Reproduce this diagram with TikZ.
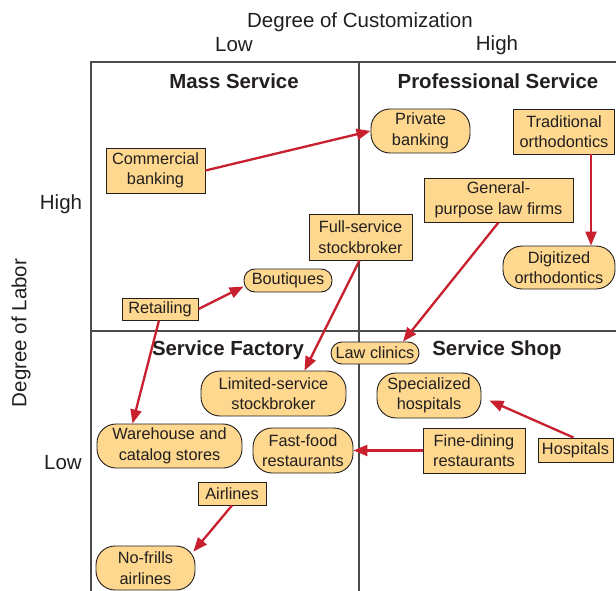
\documentclass[tikz,border=0pt]{standalone}
\usepackage{fontspec}
\setmainfont{Liberation Sans}
\usetikzlibrary{arrows.meta,calc}
\definecolor{boxfill}{HTML}{FDD88E}
\definecolor{arrowred}{HTML}{C8202E}
\definecolor{inkgray}{HTML}{231F20}
\definecolor{framegray}{HTML}{4A4A4A}
\begin{document}
\begin{tikzpicture}[x=1pt,y=-1pt,
  nodefont/.style={font=\fontsize{16.3}{20.5}\selectfont},
  sqbox/.style={nodefont, text=inkgray, draw=inkgray, line width=0.9pt, fill=boxfill, align=center, inner sep=0pt},
  rdbox/.style={sqbox, rounded corners=19pt},
  rdsmall/.style={sqbox, rounded corners=11pt},
  axislabel/.style={font=\fontsize{20.5}{24}\selectfont, text=inkgray, inner sep=0pt},
  quadtitle/.style={font=\fontsize{20.4}{24}\selectfont\bfseries, text=inkgray, inner sep=0pt},
  framelines/.style={draw=framegray, line width=1.2pt},
  redarrow/.style={draw=arrowred, line width=2.3pt, -{Triangle[length=14pt,width=11pt]}}
]
\clip (0,0) rectangle (616,591);
\fill[white] (0,0) rectangle (616,591);

% frame
\draw[framelines] (91,620) -- (91,62) -- (640,62);
\draw[framelines] (359,62) -- (359,620);
\draw[framelines] (91,331) -- (640,331);

% axis labels
\node[axislabel] (dc) at (360,22) {Degree of Customization};
\node[axislabel] (clow) at (234,45) {Low};
\node[axislabel] (chigh) at (497,45) {High};
\node[axislabel] (lhigh) at (61,204) {High};
\node[axislabel] (llow) at (63,463) {Low};
\node[axislabel, rotate=90] (dl) at (21,333) {Degree of Labor};

% quadrant titles
\node[quadtitle] (ms) at (234,81) {Mass Service};
\node[quadtitle] (ps) at (498,81) {Professional Service};
\node[quadtitle] (sf) at (228,350) {Service Factory};
\node[quadtitle] (ss) at (497,350) {Service Shop};

% nodes
\node[sqbox, minimum width=99pt, minimum height=45pt] (cb) at (155.5,170.5) {Commercial\\banking};
\node[rdbox, minimum width=99pt, minimum height=44pt] (pb) at (420.5,131) {Private\\banking};
\node[sqbox, minimum width=101pt, minimum height=45pt] (to) at (564,131.5) {Traditional\\orthodontics};
\node[sqbox, minimum width=149pt, minimum height=44pt] (gl) at (498.5,200) {General-\\purpose law firms};
\node[rdbox, minimum width=112pt, minimum height=43pt] (dorth) at (559,267.5) {Digitized\\orthodontics};
\node[sqbox, minimum width=103pt, minimum height=46pt] (fs) at (360.5,237) {Full-service\\stockbroker};
\node[rdsmall, minimum width=88pt, minimum height=23pt] (bt) at (288,280.5) {Boutiques};
\node[sqbox, minimum width=76pt, minimum height=22pt] (rt) at (160,309) {Retailing};
\node[rdsmall, minimum width=88pt, minimum height=22pt] (lc) at (375,353) {Law clinics};
\node[rdbox, minimum width=145pt, minimum height=45pt] (ls) at (273.5,393.5) {Limited-service\\stockbroker};
\node[rdbox, minimum width=145pt, minimum height=44pt] (wh) at (169.5,446) {Warehouse and\\catalog stores};
\node[rdbox, minimum width=100pt, minimum height=45pt] (ff) at (303,450.5) {Fast-food\\restaurants};
\node[rdbox, minimum width=104pt, minimum height=45pt] (sh) at (429,395.5) {Specialized\\hospitals};
\node[sqbox, minimum width=102pt, minimum height=45pt] (fd) at (474,450.5) {Fine-dining\\restaurants};
\node[sqbox, minimum width=75pt, minimum height=24pt] (hs) at (575.5,450) {Hospitals};
\node[sqbox, minimum width=68pt, minimum height=23pt] (al) at (232,493.5) {Airlines};
\node[rdbox, minimum width=99pt, minimum height=44pt] (nf) at (145.5,568) {No-frills\\airlines};

% arrows
\draw[redarrow] (cb.east) -- (pb.west);
\draw[redarrow] ([xshift=27pt]to.south) -- ([xshift=32pt]dorth.north);
\draw[redarrow] (gl.south) -- ([xshift=28pt]lc.north);
\draw[redarrow] ([xshift=-1pt]fs.south) -- ([xshift=31pt]ls.north);
\draw[redarrow] (rt.east) -- ([yshift=-6pt]bt.west);
\draw[redarrow] ([xshift=-1pt]rt.south) -- ([xshift=-37pt]wh.north);
\draw[redarrow] (fd.west) -- (ff.east);
\draw[redarrow] ([xshift=-2pt]hs.north) -- ([xshift=8pt,yshift=-5pt]sh.east);
\draw[redarrow] (al.south) -- ([xshift=-2pt,yshift=-6pt]nf.north east);
\end{tikzpicture}
\end{document}
